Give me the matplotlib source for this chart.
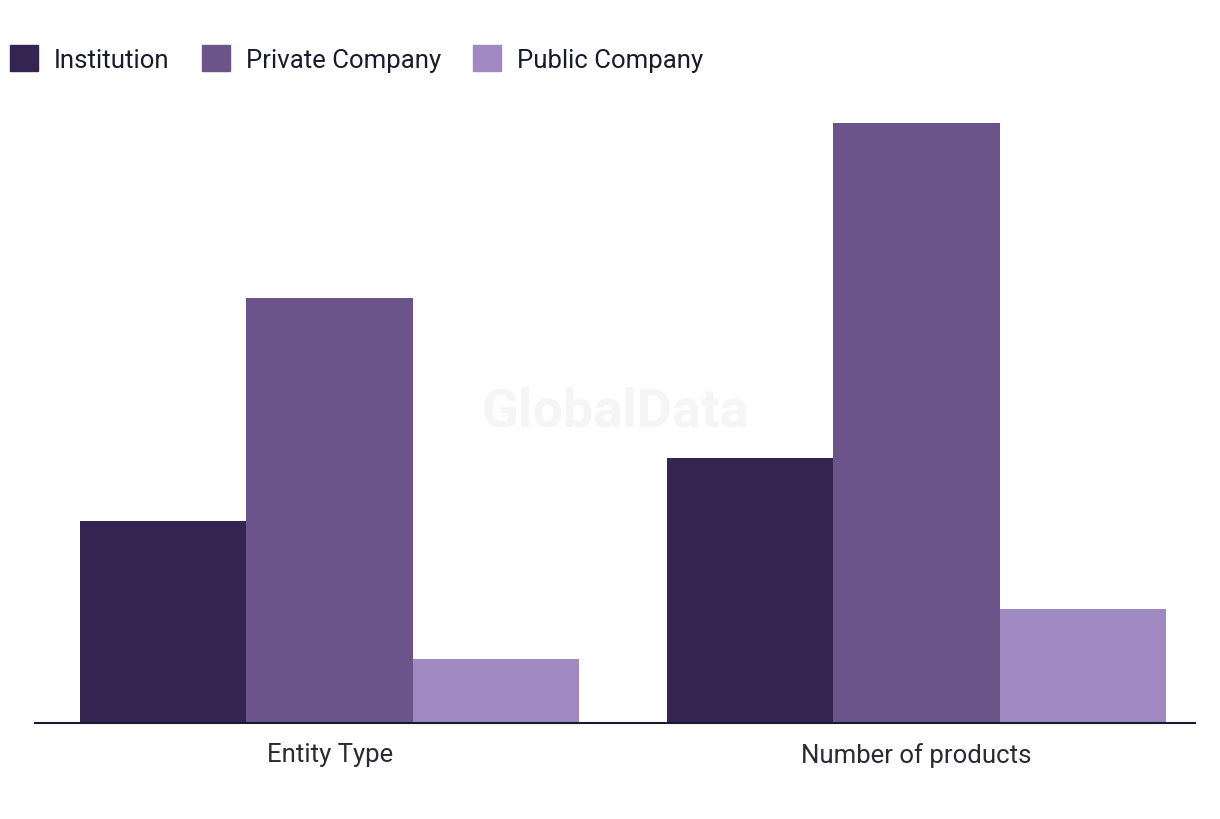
import matplotlib.pyplot as plt
import numpy as np
from matplotlib.patches import Patch

plt.rcParams['font.family'] = ['Roboto', 'DejaVu Sans']

groups = ['Entity Type', 'Number of products']
series = ['Institution', 'Private Company', 'Public Company']
institution = [19, 25]
private_company = [40, 56.5]
public_company = [6, 10.75]
colors = ['#352452', '#6a5489', '#a088c0']

fig = plt.figure(figsize=(12.2, 8.2), dpi=100)
ax = fig.add_axes([35 / 1220, (820 - 724) / 820, 1160 / 1220, 624 / 820])

x = np.arange(len(groups))
w = 0.2836
for i, (vals, c) in enumerate(zip([institution, private_company, public_company], colors)):
    ax.bar(x + (i - 1) * w, vals, width=w, color=c, linewidth=0)

ax.set_xlim(-0.502, 1.474)
ax.set_ylim(0, 56.5 * 624 / 600)
ax.set_yticks([])
ax.set_xticks(x)
ax.set_xticklabels(groups, fontsize=18.5, color='#2a2a35')
ax.tick_params(axis='x', length=0, pad=14)
for s in ['top', 'right', 'left']:
    ax.spines[s].set_visible(False)
ax.spines['bottom'].set_color('#1a1a2e')
ax.spines['bottom'].set_linewidth(1.5)

ax.text(0.5, 0.5, 'GlobalData', transform=ax.transAxes, ha='center', va='center',
        fontsize=39, fontweight='bold', color='#f5f5f5', zorder=0)

handles = [Patch(color=c, label=s) for s, c in zip(series, colors)]
fig.legend(handles=handles, loc='upper left', bbox_to_anchor=(0.0, 0.957), ncol=3, frameon=False,
           fontsize=18.5, handlelength=1.09, handleheight=1.22, handletextpad=0.62, columnspacing=1.25,
           labelcolor='#1a1a2e', borderaxespad=0.0)

fig.savefig('out.png', dpi=100)
